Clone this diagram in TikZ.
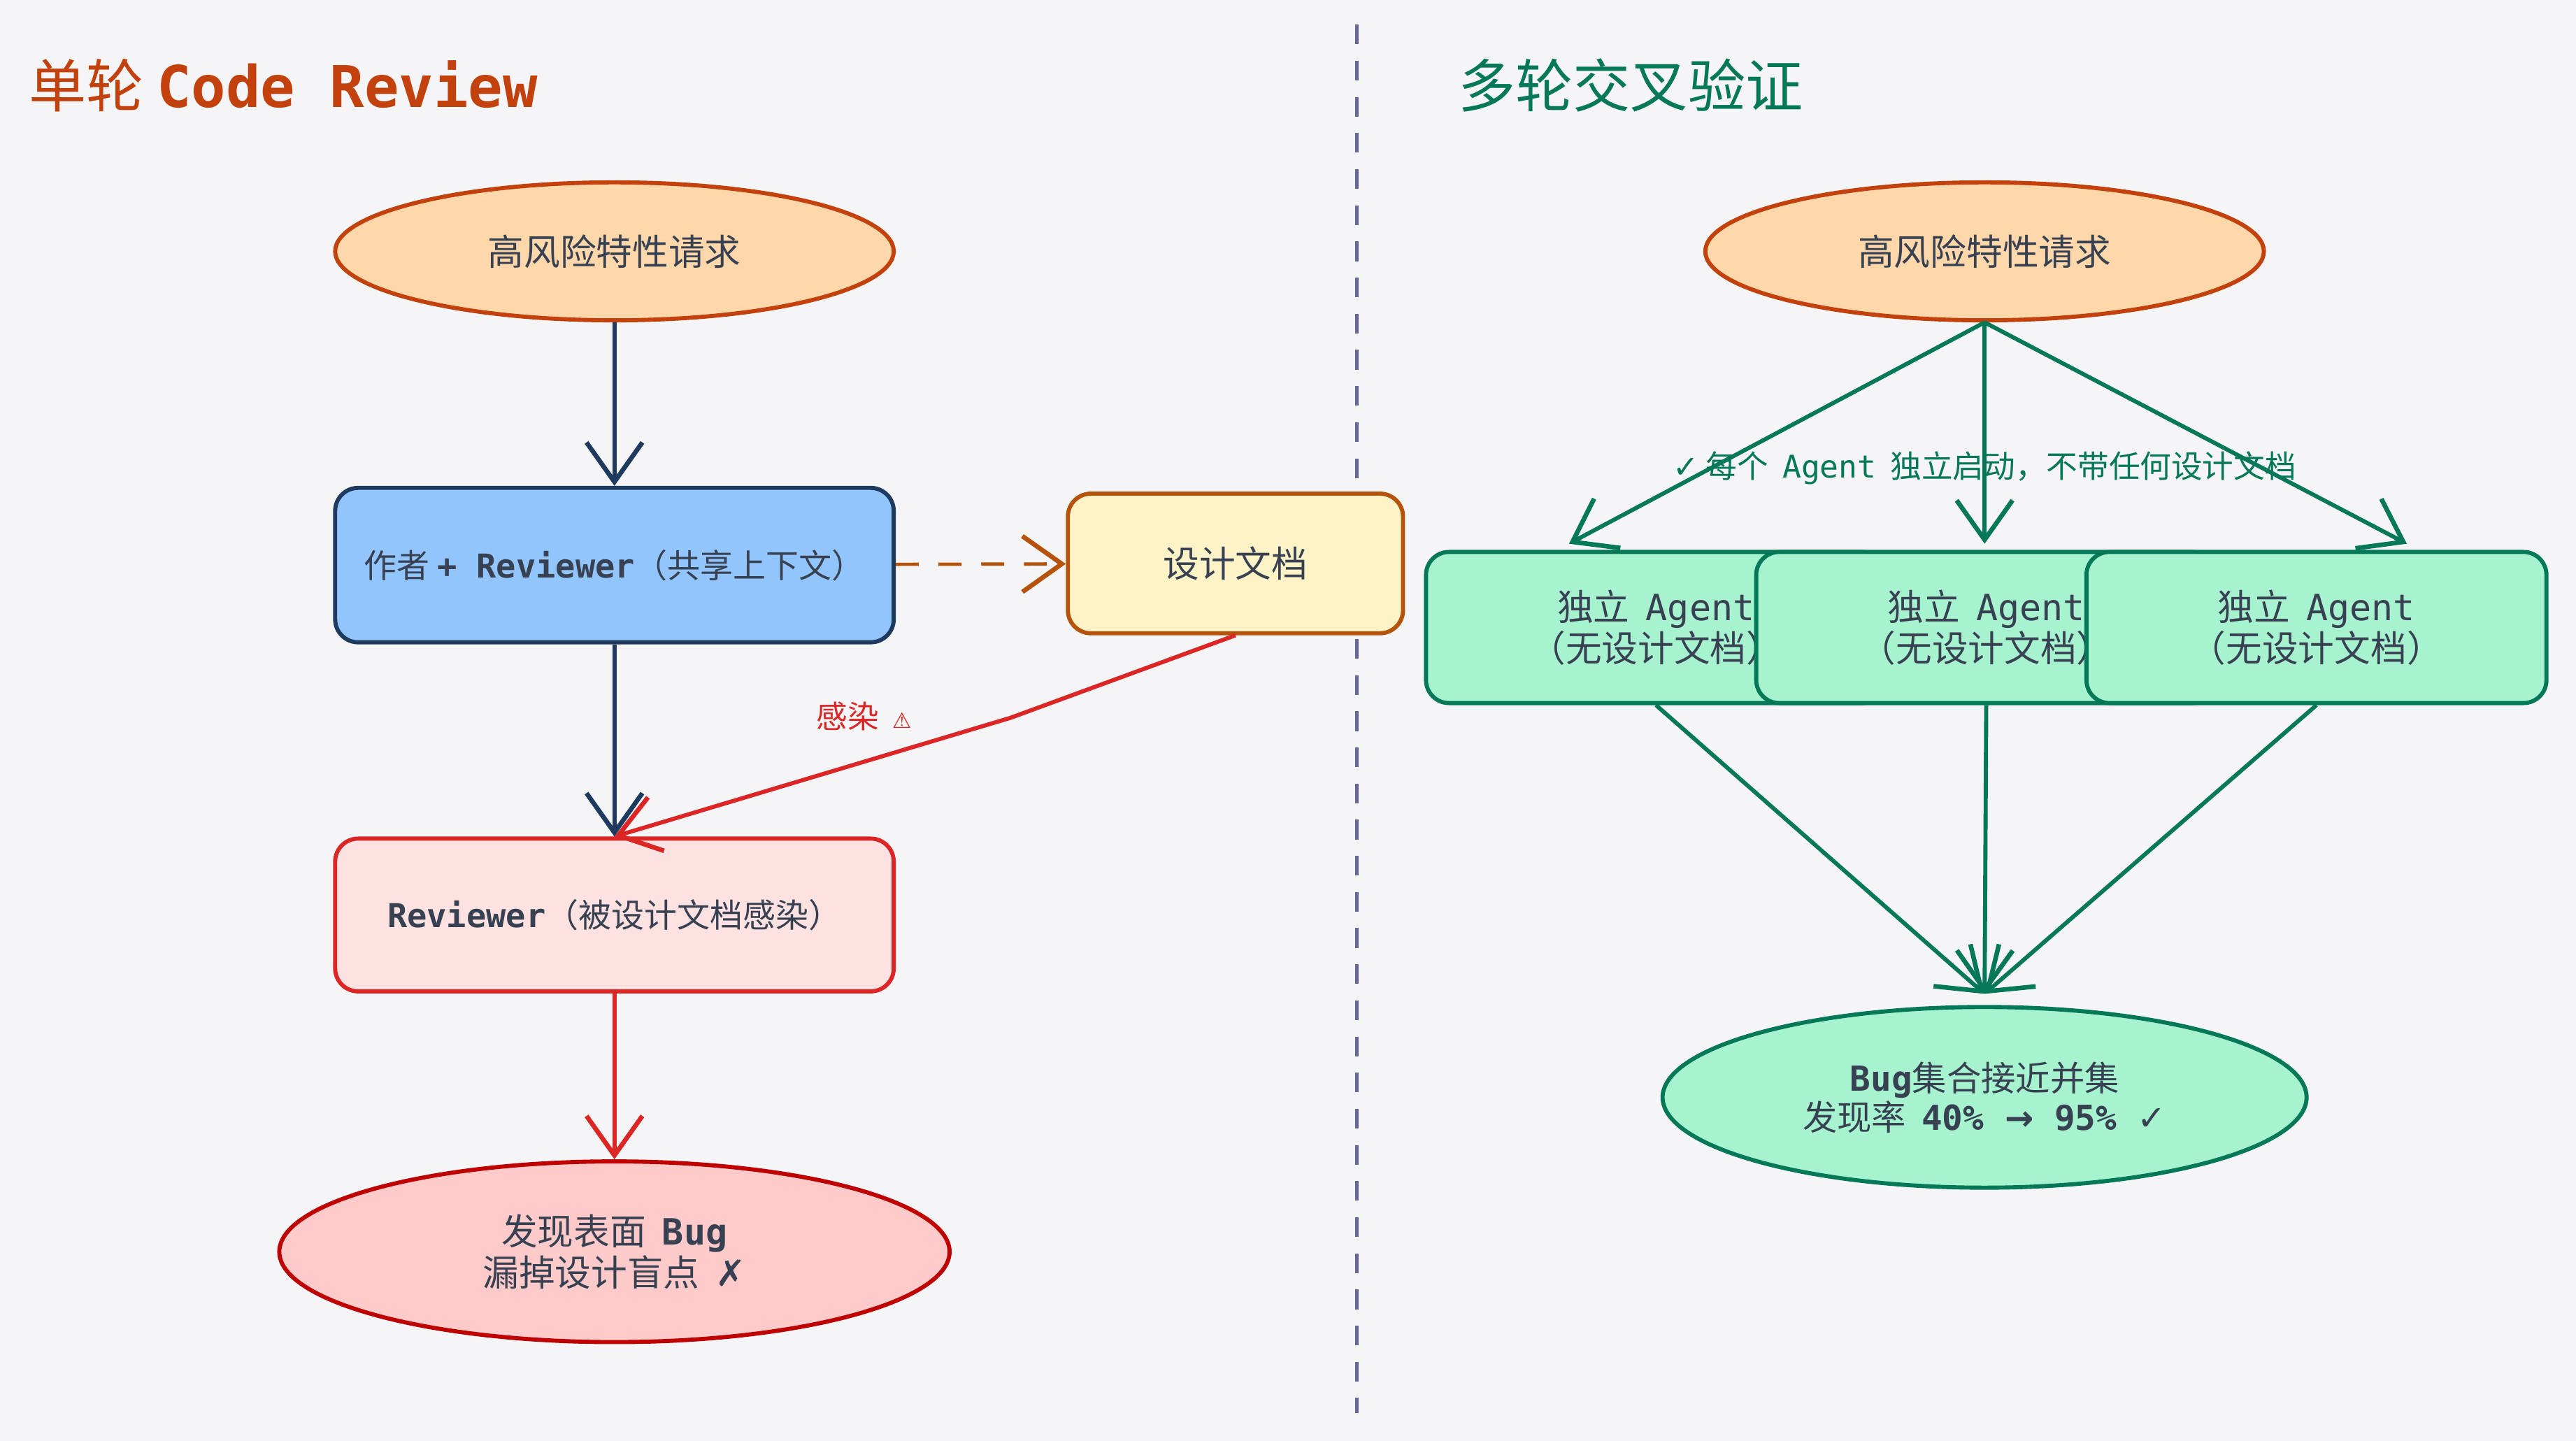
\documentclass[tikz,border=0pt]{standalone}
\usepackage{fontspec}
\setmainfont{Noto Sans CJK SC}
\setmonofont{DejaVu Sans Mono}
\newfontfamily\symfont{DejaVu Sans}
\usetikzlibrary{arrows.meta,positioning,shapes.geometric}
\definecolor{bgc}{HTML}{F5F5F7}
\definecolor{orgc}{HTML}{C2410C}
\definecolor{grnc}{HTML}{047857}
\definecolor{navc}{HTML}{1E3A5F}
\definecolor{redc}{HTML}{DC2626}
\definecolor{brnc}{HTML}{B45309}
\definecolor{txtc}{HTML}{374151}
\definecolor{bluf}{HTML}{93C5FD}
\definecolor{yelf}{HTML}{FEF3C7}
\definecolor{grnf}{HTML}{A7F3D0}
\definecolor{orgf}{HTML}{FED7AA}
\definecolor{redf}{HTML}{FECACA}
\definecolor{pnkf}{HTML}{FEE2E2}
\tikzset{
	lbl/.style={font=\fontsize{22}{27}\selectfont, text=txtc, align=center},
	oval/.style={ellipse, draw, line width=2.5pt, inner sep=0pt, lbl},
	card/.style={rectangle, rounded corners=14pt, draw, line width=2.5pt, inner sep=0pt, lbl},
	tip/.style={-{Straight Barb[length=24pt,width=34pt,line width=2.8pt]}, line width=2.5pt}
}
\begin{document}
\begin{tikzpicture}[x=1pt, y=-1pt]
		\fill[bgc] (0,0) rectangle (1568,877);
		\useasboundingbox (0,0) rectangle (1568,877);
		
		% titles and divider
		\node[anchor=west, text=orgc, font=\fontsize{35}{40}\selectfont] (ttlL) at (14,52) {单轮\ \texttt{\bfseries Code Review}};
		\node[anchor=west, text=grnc, font=\fontsize{35}{40}\selectfont] (ttlR) at (884,52) {多轮交叉验证};
		\draw[dash pattern=on 12pt off 10pt, line width=2pt, color=gray!80!blue] (826,15) -- (826,860);
		
		% left side
		\node[oval, fill=orgf, draw=orgc, minimum width=340pt, minimum height=84pt] (reqL) at (374,153) {高风险特性请求};
		\node[card, fill=bluf, draw=navc, minimum width=340pt, minimum height=94pt, font=\fontsize{20}{25}\selectfont] (auth) at (374,344) {作者\ \texttt{\bfseries + Reviewer}（共享上下文）};
		\node[card, fill=yelf, draw=brnc, minimum width=204pt, minimum height=85pt] (doc) at (752,343) {设计文档};
		\node[card, fill=pnkf, draw=redc, minimum width=340pt, minimum height=93pt, font=\fontsize{20}{25}\selectfont] (rev) at (374,557) {\texttt{\bfseries Reviewer}（被设计文档感染）};
		\node[oval, fill=redf, draw=red!75!black, minimum width=408pt, minimum height=110pt] (outL) at (374,762) {发现表面\ \ \texttt{\bfseries Bug}\\[-2pt]漏掉设计盲点 \ {\symfont\bfseries ✗}};
		\coordinate (bend) at (615,437);
		
		\draw[tip, navc] (reqL) -- (auth);
		\draw[tip, navc] (auth) -- (rev);
		\draw[tip, brnc, dash pattern=on 14pt off 12pt, line width=2pt] (auth) -- (doc);
		\draw[tip, redc] (doc.south) -- (bend) -- (rev.north);
		\node[text=redc, font=\fontsize{19}{23}\selectfont] (inf) at (526,436) {感染 \ {\symfont\fontsize{13}{16}\selectfont ⚠}};
		\draw[tip, redc] (rev) -- (outL);
		
		% right side
		\node[oval, fill=orgf, draw=orgc, minimum width=340pt, minimum height=84pt] (reqR) at (1208,153) {高风险特性请求};
		\foreach \n\x in {1/955, 2/1208, 3/1465}
		{
			\coordinate (in\n) at (\x,331);
			\draw[tip, grnc] (reqR.south) -- (in\n);
		}
		\node[text=grnc, font=\fontsize{19}{23}\selectfont] (note) at (1208,285) {{\symfont ✓}\ 每个\ \ \texttt{Agent}\ \ 独立启动，不带任何设计文档};
		\foreach \n\x in {1/1008, 2/1209, 3/1410}
		\node[card, fill=grnf, draw=grnc, minimum width=280pt, minimum height=92pt] (ag\n) at (\x,382) {独立\ \ \texttt{Agent}\\[-2pt]（无设计文档）};
		\node[oval, fill=grnf, draw=grnc, minimum width=392pt, minimum height=110pt, font=\fontsize{21}{26}\selectfont] (outR) at (1208,668) {\texttt{\bfseries Bug}集合接近并集\\[-2pt]发现率\ \ \texttt{\bfseries 40\% {\symfont →} 95\% {\symfont ✓}}};
		\coordinate (hit) at (1208,605);
		\foreach \n in {1,2,3}
		\draw[tip, grnc] (ag\n.south) -- (hit);
	\end{tikzpicture}
\end{document}
